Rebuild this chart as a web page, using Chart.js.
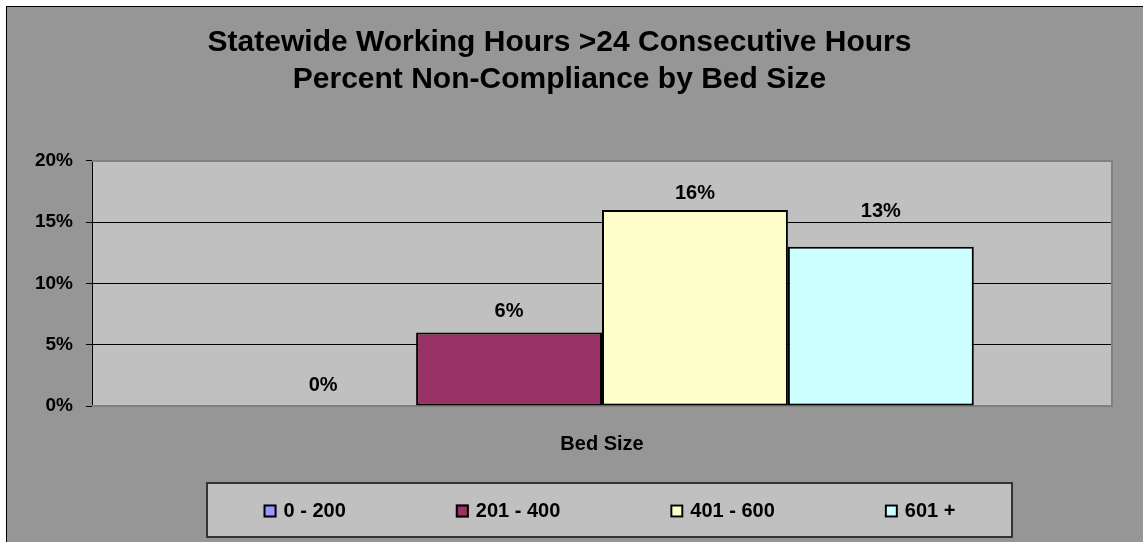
<!DOCTYPE html>
<html>
<head>
<meta charset="utf-8">
<script src="https://cdn.jsdelivr.net/npm/chart.js@4/dist/chart.umd.min.js"></script>
<style>
  html, body { margin: 0; padding: 0; background: #fff; overflow: hidden; }
  #frame {
    position: absolute; left: 6px; top: 6px;
    width: 1200px; height: 600px;
    border: 1px solid #000; background: #969696;
  }
  #chart { display: block; }
</style>
</head>
<body>
<div id="frame"><canvas id="chart" width="1150" height="535"></canvas></div>
<script>
const TITLE = ['Statewide Working Hours >24 Consecutive Hours', 'Percent Non-Compliance by Bed Size'];
const CATEGORIES = ['Bed Size'];
const SERIES_NAMES = ['0 - 200', '201 - 400', '401 - 600', '601 +'];
const SERIES_VALUES = [0, 6, 16, 13];
const SERIES_COLORS = ['#9999FF', '#993366', '#FFFFCC', '#CCFFFF'];
const Y_TICKS = [0, 5, 10, 15, 20];

const FONT = 'Liberation Sans, Arial, Helvetica, sans-serif';
// how far each value label sits above its bar (Excel placed them by hand)
const LABEL_LIFT = [21, 21, 16, 35];
const LEGEND_BOX = { left: 200, top: 476, right: 1005, bottom: 530 };

Chart.defaults.font.family = FONT;
Chart.defaults.font.weight = 'bold';
Chart.defaults.color = '#000';

const plotFrame = {
    id: 'plotFrame',
    beforeDraw(chart) {
        const { ctx, chartArea: a } = chart;
        ctx.save();
        ctx.fillStyle = '#C0C0C0';
        ctx.fillRect(a.left, a.top, a.width, a.height);
        ctx.restore();
    },
    beforeDatasetsDraw(chart) {
        const { ctx, chartArea: a } = chart;
        ctx.save();
        ctx.strokeStyle = '#808080';
        ctx.lineWidth = 2;
        ctx.beginPath();
        ctx.moveTo(a.left, a.top);
        ctx.lineTo(a.right, a.top);
        ctx.lineTo(a.right, a.bottom);
        ctx.lineTo(a.left, a.bottom);
        ctx.stroke();
        ctx.restore();
    },
};

const valueLabels = {
    id: 'valueLabels',
    afterDatasetsDraw(chart) {
        const { ctx } = chart;
        ctx.save();
        ctx.font = 'bold 20px ' + FONT;
        ctx.fillStyle = '#000';
        ctx.textAlign = 'center';
        ctx.textBaseline = 'middle';
        chart.data.datasets.forEach((ds, i) => {
            const bar = chart.getDatasetMeta(i).data[0];
            ctx.fillText(ds.data[0] + '%', bar.x, bar.y - LABEL_LIFT[i]);
        });
        ctx.restore();
    },
};

const boxLegend = {
    id: 'boxLegend',
    afterDraw(chart) {
        const { ctx } = chart;
        const b = LEGEND_BOX;
        const square = 13;
        const gap = 7;
        const spacing = 110;

        ctx.save();
        ctx.fillStyle = '#C0C0C0';
        ctx.fillRect(b.left, b.top, b.right - b.left, b.bottom - b.top);
        ctx.strokeStyle = '#333';
        ctx.lineWidth = 2;
        ctx.strokeRect(b.left, b.top, b.right - b.left, b.bottom - b.top);

        ctx.font = 'bold 20px ' + FONT;
        ctx.textBaseline = 'middle';
        ctx.textAlign = 'left';
        const items = chart.data.datasets.map(ds => ({
            text: ds.label,
            color: ds.backgroundColor,
            w: square + gap + ctx.measureText(ds.label).width,
        }));
        const total = items.reduce((s, it) => s + it.w, 0) + spacing * (items.length - 1);
        const cy = (b.top + b.bottom) / 2 + 1;
        let x = (b.left + b.right) / 2 - total / 2;
        items.forEach(it => {
            ctx.fillStyle = it.color;
            ctx.fillRect(x, cy - square / 2, square, square);
            ctx.strokeStyle = '#000';
            ctx.lineWidth = 2;
            ctx.strokeRect(x + 1, cy - square / 2 + 1, square - 2, square - 2);
            ctx.fillStyle = '#000';
            ctx.fillText(it.text, x + square + gap, cy);
            x += it.w + spacing;
        });
        ctx.restore();
    },
};

new Chart(document.getElementById('chart'), {
    type: 'bar',
    data: {
        labels: CATEGORIES,
        datasets: SERIES_NAMES.map((name, i) => ({
            label: name,
            data: [SERIES_VALUES[i]],
            backgroundColor: SERIES_COLORS[i],
            borderColor: '#000',
            borderWidth: 2,
            borderSkipped: false,
            barPercentage: 1,
            categoryPercentage: 0.729,
        })),
    },
    options: {
        responsive: false,
        animation: false,
        devicePixelRatio: 1,
        layout: {
            padding: { left: 0, right: 45, top: 0, bottom: 82 },
        },
        plugins: {
            legend: { display: false },
            tooltip: { enabled: false },
            title: {
                display: true,
                text: TITLE,
                color: '#000',
                font: { size: 30, weight: 'bold', lineHeight: 1.233 },
                padding: { top: 17, bottom: 63 },
            },
        },
        scales: {
            x: {
                ticks: { display: false },
                grid: { display: false, drawTicks: false },
                border: { display: false },
                title: {
                    display: true,
                    text: CATEGORIES[0],
                    color: '#000',
                    font: { size: 20, weight: 'bold', lineHeight: 1.2 },
                    padding: { top: 26, bottom: 4 },
                },
            },
            y: {
                min: 0,
                max: 20,
                afterBuildTicks(scale) {
                    scale.ticks = Y_TICKS.map(v => ({ value: v }));
                },
                afterFit(scale) {
                    scale.width = 85;
                },
                ticks: {
                    padding: 13,
                    color: '#000',
                    font: { size: 19, weight: 'bold' },
                    callback: v => v + '%',
                },
                grid: {
                    color: c => (c.tick && (c.tick.value === 0 || c.tick.value === 20)) ? 'rgba(0,0,0,0)' : '#000',
                    tickColor: '#000',
                    tickLength: 6,
                    lineWidth: 1,
                },
                border: { display: true, color: '#000', width: 1 },
            },
        },
    },
    plugins: [plotFrame, valueLabels, boxLegend],
});
</script>
</body>
</html>
